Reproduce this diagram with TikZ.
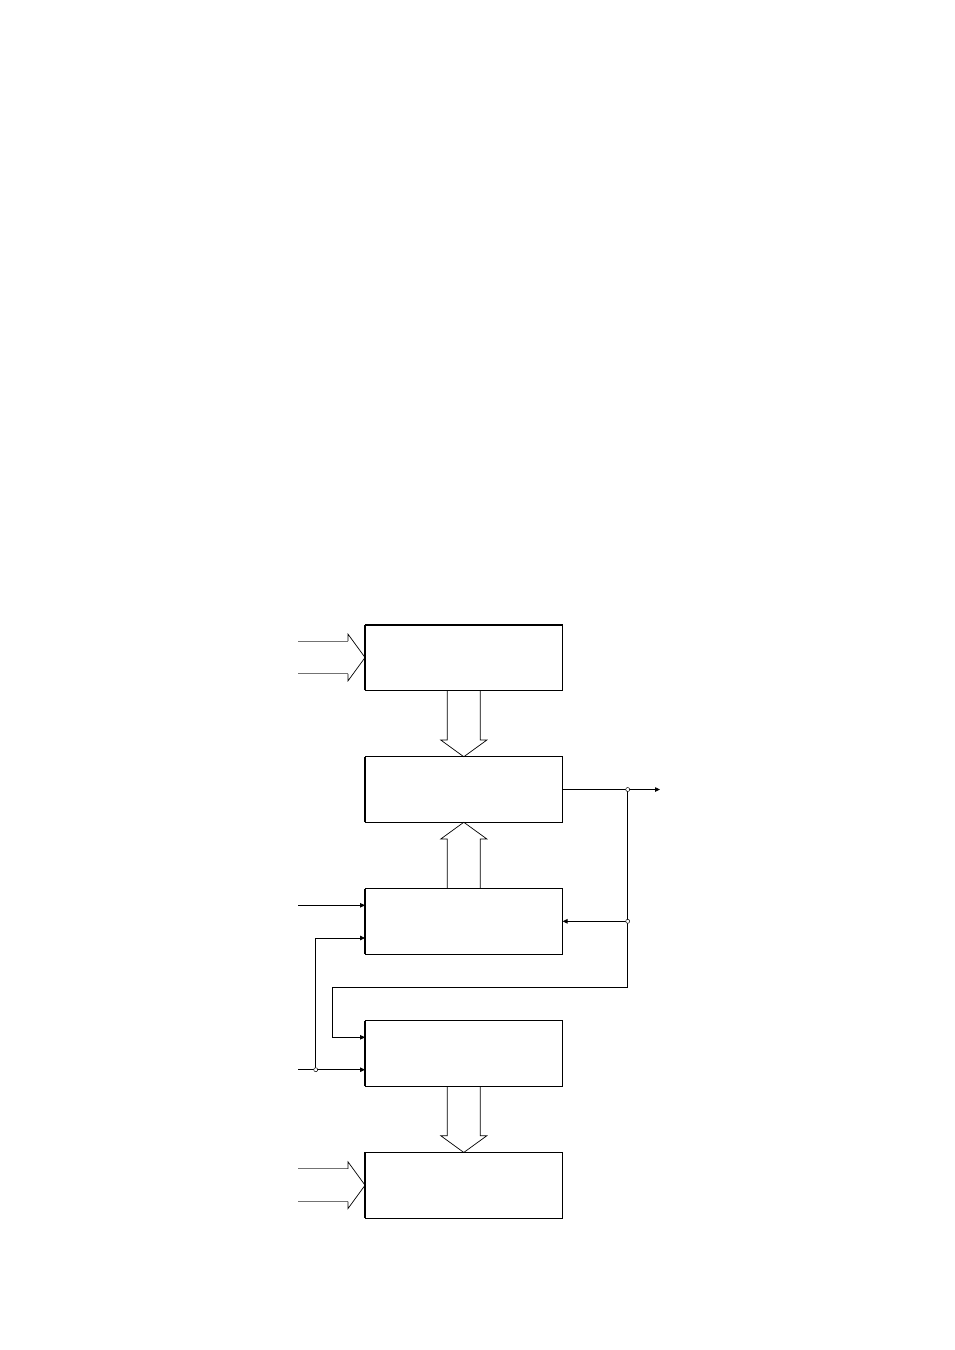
\documentclass[tikz,border=0pt]{standalone}
\usetikzlibrary{arrows.meta,calc}
\begin{document}
\begin{tikzpicture}[x=1pt,y=-1pt,
 blk/.style={draw,line width=0.9pt,minimum width=197.5pt,minimum height=65.5pt,inner sep=0pt,outer sep=0pt},
 wire/.style={line width=0.8pt},
 tipped/.style={-{Triangle[length=5pt,width=4.5pt]}},
 hollow/.style={draw,line width=0.7pt,line join=miter},
 shaft/.style={draw=black!55,line width=1pt},
 jn/.style={circle,draw,line width=0.5pt,fill=white,inner sep=0pt,minimum size=4pt}]
\useasboundingbox (0,0) rectangle (954,1350);

% blocks
\node[blk] (b1) at (463.8,657.5) {};
\node[blk] (b2) at (463.8,789.5) {};
\node[blk] (b3) at (463.8,921.3) {};
\node[blk] (b4) at (463.8,1053.3) {};
\node[blk] (b5) at (463.8,1185.2) {};
\foreach \b in {b1,b2,b3,b4,b5}
  \draw[line width=1.8pt] (\b.south west) -- (\b.north west);
\draw[line width=1.8pt] (b1.north west) -- (b1.north east);

% hollow arrows between blocks
\draw[hollow] ($(b1.south)+(-16.5,0)$) |- ($(b2.north)+(-23,-16.7)$) -- (b2.north)
  -- ($(b2.north)+(23,-16.7)$) -| ($(b1.south)+(16.5,0)$);
\draw[hollow] ($(b3.north)+(-16.5,0)$) |- ($(b2.south)+(-23,16.7)$) -- (b2.south)
  -- ($(b2.south)+(23,16.7)$) -| ($(b3.north)+(16.5,0)$);
\draw[hollow] ($(b4.south)+(-16.5,0)$) |- ($(b5.north)+(-23,-16.7)$) -- (b5.north)
  -- ($(b5.north)+(23,-16.7)$) -| ($(b4.south)+(16.5,0)$);

% hollow input arrows
\foreach \b in {b1,b5}{
  \draw[shaft] ($(\b.west)+(-67,-16.3)$) -- ($(\b.west)+(-17,-16.3)$);
  \draw[shaft] ($(\b.west)+(-67,16.3)$) -- ($(\b.west)+(-17,16.3)$);
  \draw[hollow] ($(\b.west)+(-17,-16.3)$) -- ($(\b.west)+(-17,-23.3)$) -- (\b.west)
     -- ($(\b.west)+(-17,23.3)$) -- ($(\b.west)+(-17,16.3)$);
}

% wires
\coordinate (j1) at (627.7,789.5);
\coordinate (j2) at (627.7,921.3);
\coordinate (out) at (660,789.5);
\coordinate (k1) at (627.7,987.3);
\coordinate (k2) at (332.3,1037.3);
\coordinate (j3) at (315.7,1069.7);
\coordinate (in3a) at (298.3,905.3);
\coordinate (in4) at (298.3,1069.7);

\draw[wire,tipped] (b2.east) -- (j1) -- (out);
\draw[wire] (j1) -- (j2) -- (k1);
\draw[wire,tipped] (j2) -- (b3.east);
\draw[wire,tipped] (k1) -| (k2) -- ($(b4.west)+(0,-16)$);
\draw[wire,tipped] (in3a) -- ($(b3.west)+(0,-16)$);
\draw[wire,tipped] (in4) -- (j3) -- ($(b4.west)+(0,16.4)$);
\draw[wire,tipped] (j3) |- ($(b3.west)+(0,16.7)$);

\node[jn] at (j1) {};
\node[jn] at (j2) {};
\node[jn] at (j3) {};
\end{tikzpicture}
\end{document}
